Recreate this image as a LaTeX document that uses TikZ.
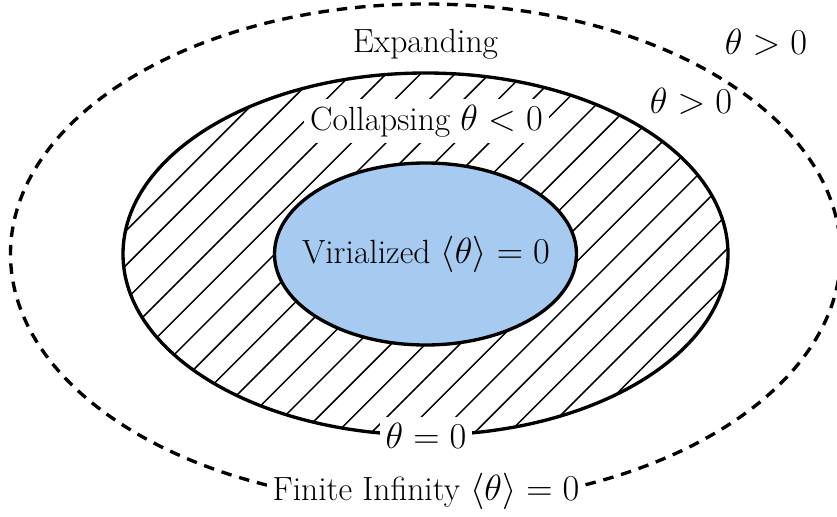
\documentclass[tikz,border=0pt]{standalone}
\usepackage{tikz}

\definecolor{virblue}{RGB}{167,203,240}

\begin{document}
\begin{tikzpicture}[
  rim/.style={black,line width=1.9pt},
  hatch/.style={black,line width=0.85pt},
  lbl/.style={font=\fontsize{19.1}{23}\selectfont,text=black,anchor=base},
  cutout/.style={lbl,fill=white}
]
\useasboundingbox (0,0) rectangle (16.74,10.32);
\coordinate (C) at (8.51,5.24);

% outer boundary
\draw[rim,dash pattern=on 6pt off 4.5pt] (C) ellipse [x radius=8.30, y radius=5.00];

% hatched shell
\begin{scope}
\clip (C) ellipse [x radius=6.05, y radius=3.62];
\foreach \n in {-8,...,21}
  \draw[hatch] ({-0.12+0.688*\n},1) -- ++(9,9);
\end{scope}
\draw[rim] (C) ellipse [x radius=6.05, y radius=3.62];

% core
\draw[rim,fill=virblue] (C) ellipse [x radius=3.02, y radius=1.82];

\node[lbl] (expanding) at (8.51,9.28) {Expanding};
\node[lbl] (outerpos) at (15.32,9.24) {$\theta > 0$};
\node[lbl] (middlepos) at (13.82,8.06) {$\theta > 0$};
\node[cutout] (collapsing) at (8.53,7.72) {Collapsing $\theta < 0$};
\node[lbl] (virialized) at (8.52,5.06) {Virialized $\langle\theta\rangle = 0$};
\node[cutout] (turnaround) at (8.52,1.36) {$\theta = 0$};
\node[cutout] (finite) at (8.52,0.32) {Finite Infinity $\langle\theta\rangle = 0$};

\end{tikzpicture}
\end{document}
